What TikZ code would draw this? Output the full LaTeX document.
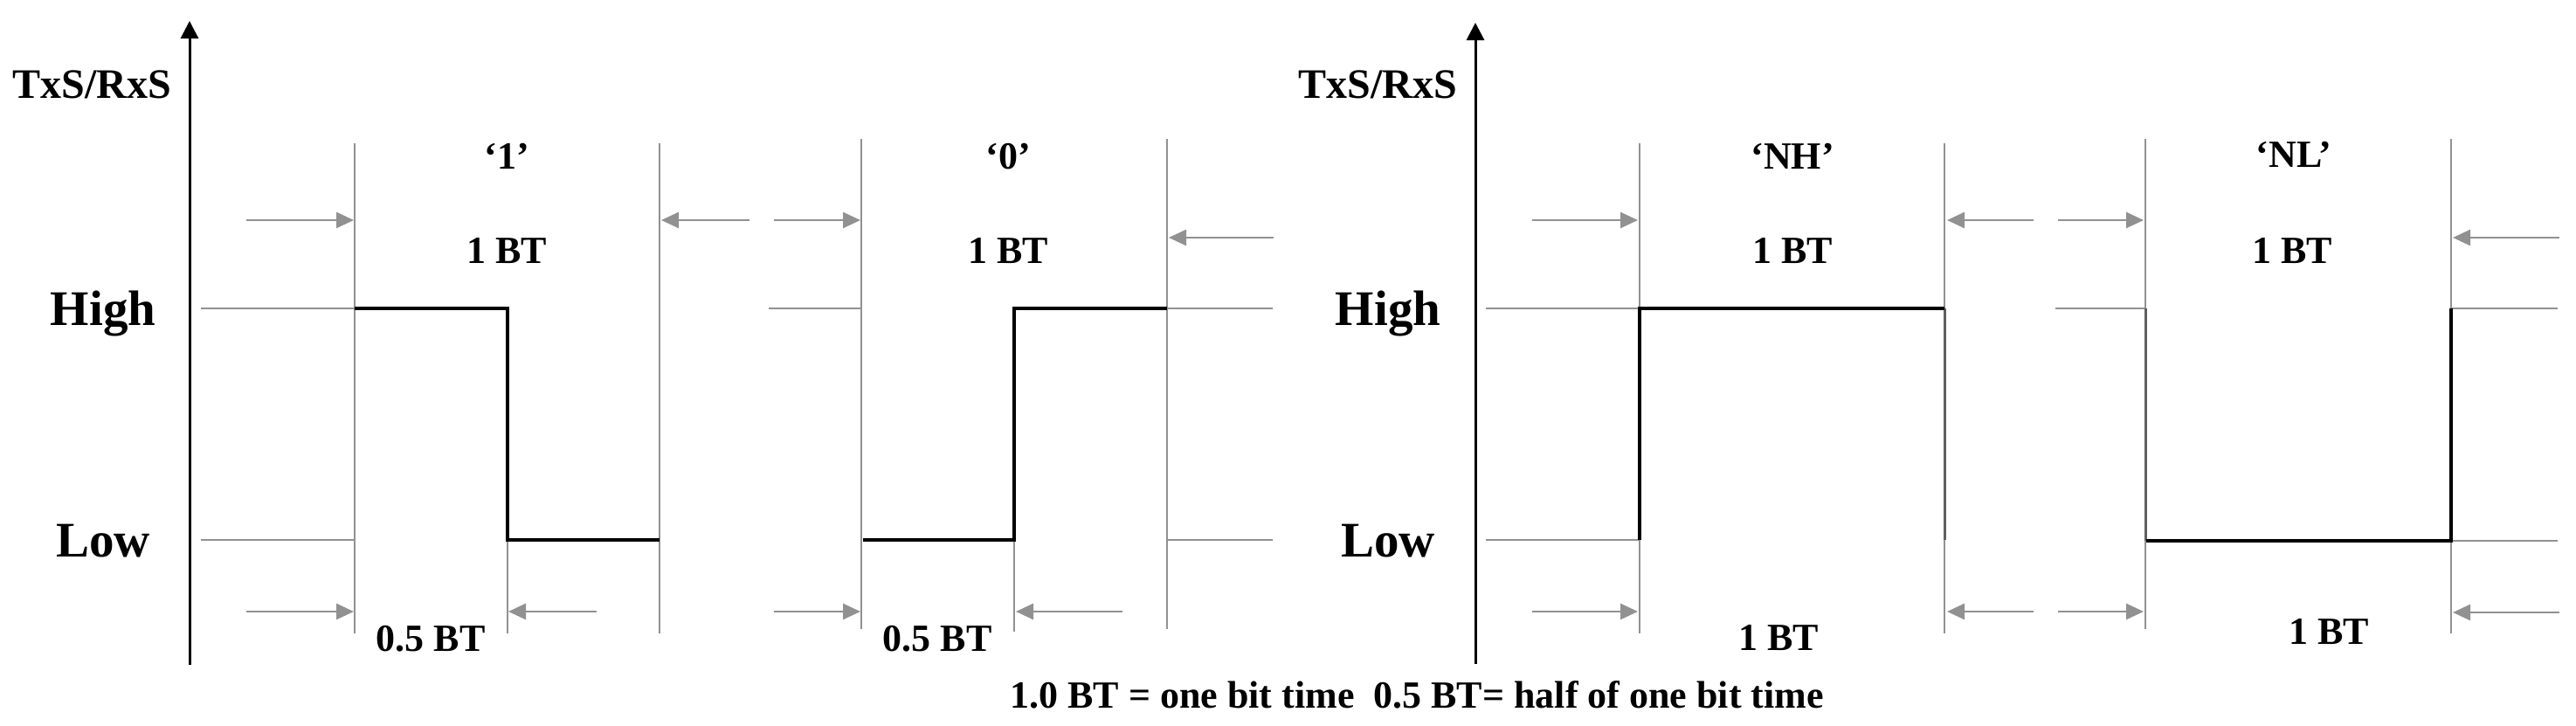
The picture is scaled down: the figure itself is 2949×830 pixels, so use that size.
\documentclass[tikz,border=0pt]{standalone}
\usepackage{fontspec}
\setmainfont{Liberation Serif}
\usetikzlibrary{arrows.meta}
\definecolor{gline}{RGB}{145,145,145}
\definecolor{dline}{RGB}{95,95,95}
\begin{document}
\begin{tikzpicture}[x=1pt,y=-1pt,
  gl/.style={draw=gline,line width=2pt},
  dg/.style={draw=dline,line width=3pt},
  sig/.style={draw=black,line width=3.6pt,line join=miter},
  garr/.style={draw=gline,line width=2.6pt,-{Triangle[length=20pt,width=18pt]}},
  axis/.style={draw=black,line width=3pt,-{Triangle[length=20pt,width=20pt]}},
  lab/.style={font=\fontsize{44}{48}\selectfont\bfseries,anchor=base,inner sep=0pt},
  big/.style={font=\fontsize{57}{60}\selectfont\bfseries,anchor=base,inner sep=0pt},
  ttl/.style={font=\fontsize{48}{52}\selectfont\bfseries,anchor=base,inner sep=0pt}]
\useasboundingbox[fill=white] (0,0) rectangle (2949,830);

% axes
\coordinate (a1b) at (217,761); \coordinate (a1t) at (217,24);
\coordinate (a2b) at (1689,760); \coordinate (a2t) at (1689,26);
\draw[axis] (a1b) -- (a1t);
\draw[axis] (a2b) -- (a2t);

% axis labels
\node[ttl] (t1) at (105,112) {TxS/RxS};
\node[ttl] (t2) at (1577,112) {TxS/RxS};
\node[big] (h1) at (118,372) {High};
\node[big] (l1) at (118,637) {Low};
\node[big] (h2) at (1589,372) {High};
\node[big] (l2) at (1589,637) {Low};

% ---------- '1' ----------
\draw[gl] (406,164) -- (406,725);
\draw[gl] (755,164) -- (755,725);
\draw[gl] (581,618) -- (581,725);
\draw[gl] (230,353) -- (406,353);
\draw[gl] (230,618) -- (406,618);
\draw[sig] (406,353) -- (581,353) -- (581,618) -- (755,618);
\draw[garr] (282,252) -- (405,252);
\draw[garr] (858,252) -- (757,252);
\draw[garr] (282,700) -- (405,700);
\draw[garr] (683,700) -- (582,700);
\node[lab] (n1) at (580,193) {‘1’};
\node[lab] (b1) at (580,301) {1 BT};
\node[lab] (c1) at (493,745) {0.5 BT};

% ---------- '0' ----------
\draw[gl] (986,159) -- (986,720);
\draw[gl] (1336,159) -- (1336,720);
\draw[gl] (1161,618) -- (1161,723);
\draw[gl] (880,353) -- (986,353);
\draw[gl] (1336,353) -- (1457,353);
\draw[gl] (1336,618) -- (1457,618);
\draw[sig] (988,618) -- (1161,618) -- (1161,353) -- (1336,353);
\draw[garr] (886,252) -- (985,252);
\draw[garr] (1458,272) -- (1338,272);
\draw[garr] (886,700) -- (985,700);
\draw[garr] (1285,700) -- (1163,700);
\node[lab] (n0) at (1154,193) {‘0’};
\node[lab] (b0) at (1154,301) {1 BT};
\node[lab] (c0) at (1073,745) {0.5 BT};

% ---------- 'NH' ----------
\draw[gl] (1877,164) -- (1877,725);
\draw[gl] (2226,164) -- (2226,725);
\draw[gl] (1701,353) -- (1877,353);
\draw[gl] (1701,618) -- (1877,618);
\draw[dg] (2226,353) -- (2226,618);
\draw[sig] (1877,618) -- (1877,353) -- (2226,353);
\draw[garr] (1754,252) -- (1875,252);
\draw[garr] (2328,252) -- (2229,252);
\draw[garr] (1754,700) -- (1875,700);
\draw[garr] (2328,700) -- (2229,700);
\node[lab] (nh) at (2052,193) {‘NH’};
\node[lab] (bh) at (2052,301) {1 BT};
\node[lab] (ch) at (2036,744) {1 BT};

% ---------- 'NL' ----------
\draw[gl] (2456,159) -- (2456,720);
\draw[gl] (2806,159) -- (2806,725);
\draw[gl] (2353,353) -- (2456,353);
\draw[gl] (2806,353) -- (2928,353);
\draw[gl] (2806,619) -- (2928,619);
\draw[dg] (2456,353) -- (2456,619);
\draw[sig] (2457,619) -- (2806,619) -- (2806,353);
\draw[garr] (2356,252) -- (2454,252);
\draw[garr] (2930,272) -- (2808,272);
\draw[garr] (2356,700) -- (2454,700);
\draw[garr] (2930,701) -- (2808,701);
\node[lab] (nl) at (2626,191) {‘NL’};
\node[lab] (bl) at (2624,301) {1 BT};
\node[lab] (cl) at (2666,737) {1 BT};

% footnote
\node[lab] (foot) at (1622,810) {1.0 BT = one bit time\ \ 0.5 BT= half of one bit time};
\end{tikzpicture}
\end{document}
